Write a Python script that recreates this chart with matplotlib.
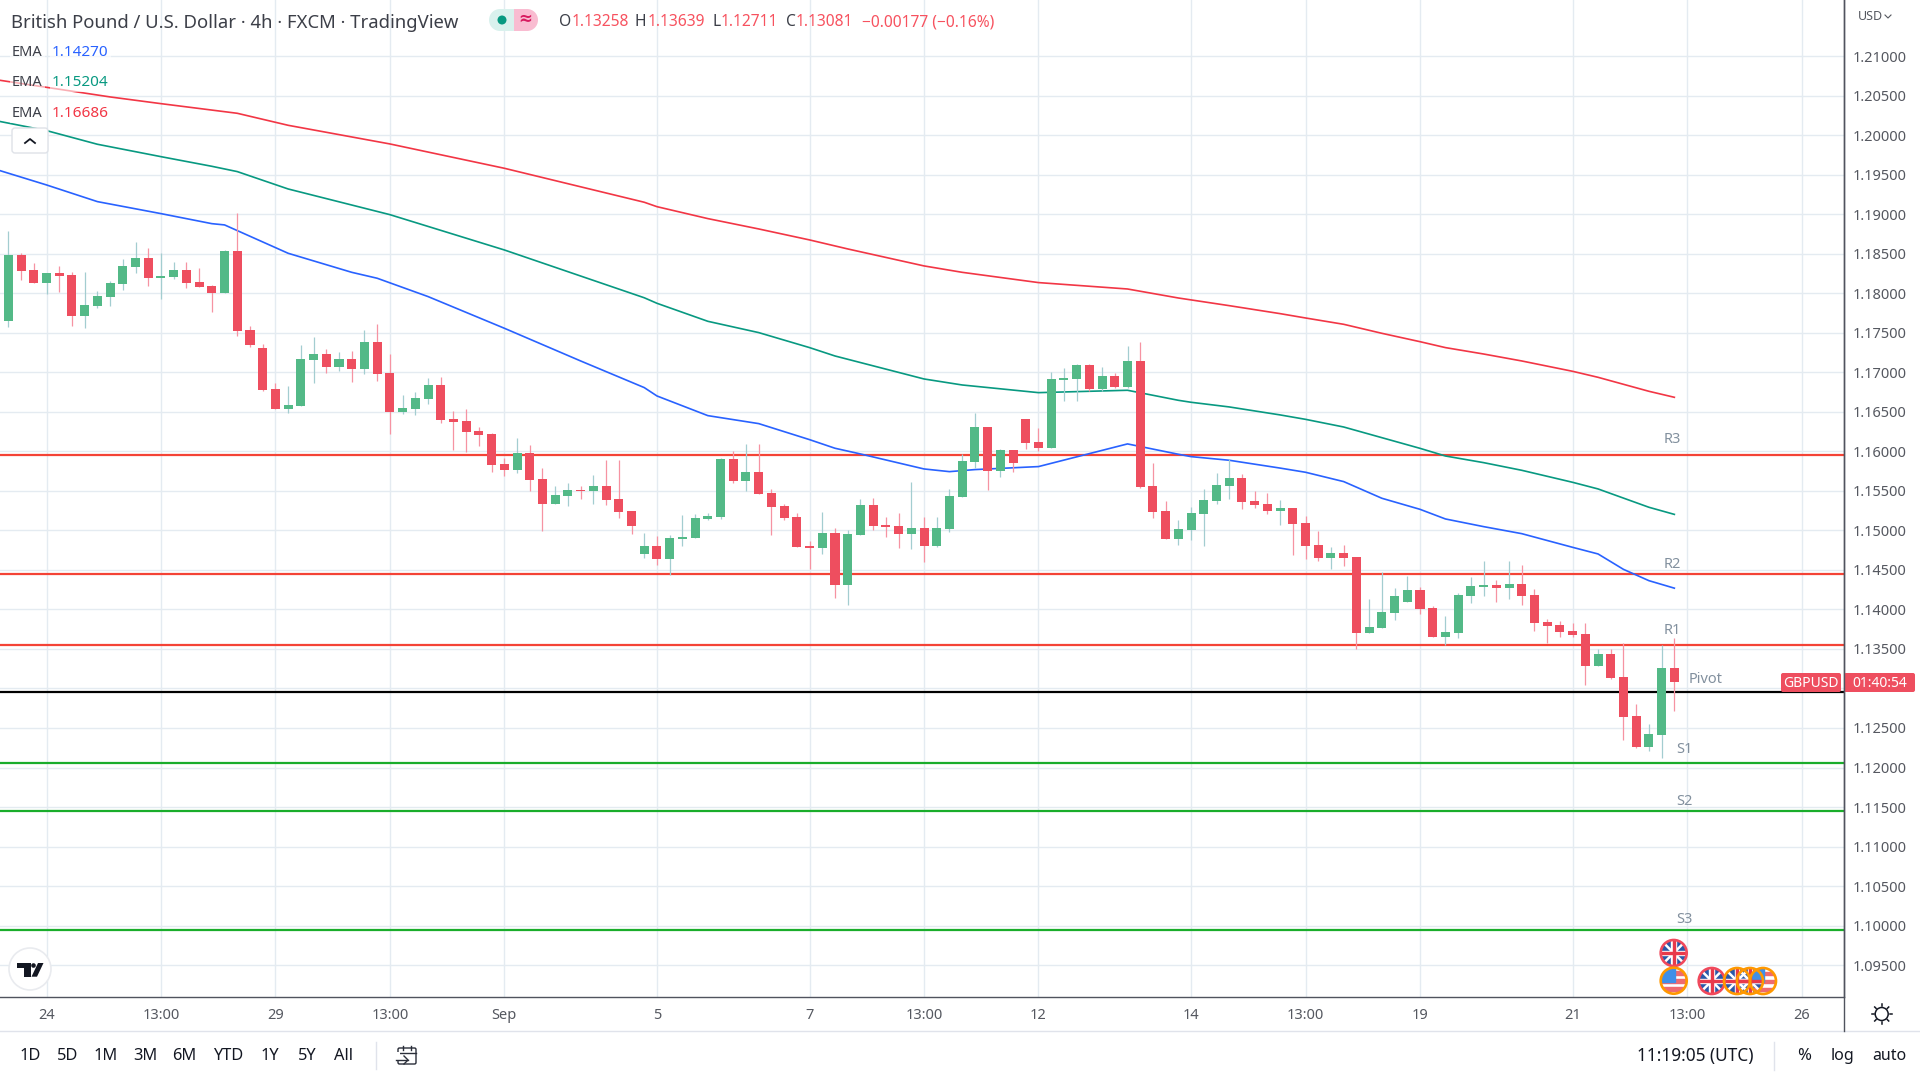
import matplotlib
matplotlib.use('Agg')
import matplotlib.pyplot as plt
from matplotlib.patches import Circle, FancyBboxPatch, Polygon, Rectangle

plt.rcParams['font.family'] = ['Noto Sans', 'DejaVu Sans']

opens = [1.17651, 1.18487, 1.18297, 1.18132, 1.18259, 1.18234, 1.17715, 1.17841, 1.17955, 1.18120,
         1.18335, 1.18449, 1.18196, 1.18208, 1.18297, 1.18145, 1.18094, 1.18006, 1.18537, 1.17538,
         1.17310, 1.16791, 1.16538, 1.16576, 1.17158, 1.17234, 1.17069, 1.17171, 1.17044, 1.17386,
         1.16993, 1.16500, 1.16538, 1.16664, 1.16841, 1.16411, 1.16386, 1.16259, 1.16221, 1.15842,
         1.15766, 1.15981, 1.15652, 1.15335, 1.15437, 1.15512, 1.15500, 1.15563, 1.15399, 1.15247,
         1.14703, 1.14804, 1.14639, 1.14893, 1.14905, 1.15146, 1.15171, 1.15905, 1.15627, 1.15741,
         1.15475, 1.15310, 1.15171, 1.14804, 1.14779, 1.14969, 1.14310, 1.14943, 1.15323, 1.15070,
         1.15057, 1.14956, 1.15032, 1.14804, 1.15019, 1.15424, 1.15867, 1.16310, 1.15753, 1.16019,
         1.16412, 1.16120, 1.16044, 1.16905, 1.16918, 1.17095, 1.16791, 1.16956, 1.16817, 1.17146,
         1.15563, 1.15247, 1.14893, 1.15007, 1.15209, 1.15374, 1.15563, 1.15664, 1.15373, 1.15335,
         1.15247, 1.15285, 1.15095, 1.14816, 1.14652, 1.14715, 1.14665, 1.13703, 1.13766, 1.13956,
         1.14095, 1.14247, 1.14019, 1.13652, 1.13703, 1.14171, 1.14285, 1.14310, 1.14272, 1.14323,
         1.14184, 1.13842, 1.13804, 1.13728, 1.13690, 1.13285, 1.13437, 1.13146, 1.12652, 1.12260,
         1.12412, 1.13258]
closes = [1.18487, 1.18284, 1.18132, 1.18259, 1.18221, 1.17715, 1.17854, 1.17968, 1.18132, 1.18348,
          1.18449, 1.18196, 1.18221, 1.18297, 1.18132, 1.18082, 1.18006, 1.18537, 1.17525, 1.17348,
          1.16778, 1.16538, 1.16588, 1.17171, 1.17234, 1.17069, 1.17171, 1.17044, 1.17386, 1.16981,
          1.16500, 1.16550, 1.16677, 1.16841, 1.16398, 1.16373, 1.16247, 1.16209, 1.15829, 1.15766,
          1.15981, 1.15639, 1.15335, 1.15449, 1.15512, 1.15500, 1.15563, 1.15386, 1.15234, 1.15057,
          1.14804, 1.14639, 1.14905, 1.14918, 1.15158, 1.15184, 1.15905, 1.15627, 1.15741, 1.15462,
          1.15298, 1.15158, 1.14791, 1.14779, 1.14969, 1.14310, 1.14956, 1.15323, 1.15057, 1.15045,
          1.14956, 1.15032, 1.14804, 1.15032, 1.15437, 1.15880, 1.16310, 1.15753, 1.16019, 1.15855,
          1.16108, 1.16044, 1.16918, 1.16930, 1.17095, 1.16791, 1.16956, 1.16817, 1.17146, 1.15551,
          1.15234, 1.14893, 1.15019, 1.15222, 1.15386, 1.15576, 1.15664, 1.15361, 1.15323, 1.15247,
          1.15285, 1.15082, 1.14804, 1.14652, 1.14715, 1.14652, 1.13703, 1.13779, 1.13968, 1.14171,
          1.14247, 1.14006, 1.13652, 1.13715, 1.14184, 1.14297, 1.14310, 1.14272, 1.14323, 1.14171,
          1.13829, 1.13791, 1.13715, 1.13677, 1.13285, 1.13437, 1.13133, 1.12639, 1.12260, 1.12424,
          1.13260, 1.13081]
highs = [1.18791, 1.18508, 1.18386, 1.18259, 1.18348, 1.18272, 1.18272, 1.18031, 1.18158, 1.18436,
         1.18651, 1.18575, 1.18512, 1.18398, 1.18398, 1.18322, 1.18107, 1.18550, 1.19018, 1.17588,
         1.17360, 1.16867, 1.16829, 1.17348, 1.17449, 1.17297, 1.17259, 1.17272, 1.17538, 1.17614,
         1.17234, 1.16715, 1.16753, 1.16930, 1.16943, 1.16512, 1.16538, 1.16310, 1.16234, 1.15918,
         1.16171, 1.16082, 1.15791, 1.15563, 1.15601, 1.15563, 1.15702, 1.15892, 1.15892, 1.15247,
         1.14969, 1.14931, 1.14943, 1.15196, 1.15209, 1.15222, 1.15918, 1.16007, 1.16095, 1.16095,
         1.15526, 1.15336, 1.15222, 1.14867, 1.15234, 1.15032, 1.15007, 1.15399, 1.15412, 1.15171,
         1.15222, 1.15614, 1.15171, 1.15171, 1.15526, 1.15969, 1.16487, 1.16310, 1.16032, 1.16019,
         1.16412, 1.16298, 1.17006, 1.17057, 1.17108, 1.17108, 1.17070, 1.16994, 1.17335, 1.17386,
         1.15855, 1.15374, 1.15133, 1.15298, 1.15526, 1.15728, 1.15905, 1.15715, 1.15500, 1.15475,
         1.15386, 1.15285, 1.15184, 1.14994, 1.14791, 1.14816, 1.14665, 1.14133, 1.14475, 1.14272,
         1.14424, 1.14285, 1.14044, 1.13918, 1.14209, 1.14411, 1.14614, 1.14373, 1.14614, 1.14563,
         1.14260, 1.13880, 1.13855, 1.13829, 1.13829, 1.13500, 1.13500, 1.13576, 1.12804, 1.12551,
         1.13551, 1.13639]
lows = [1.17576, 1.18170, 1.18132, 1.17993, 1.18019, 1.17588, 1.17563, 1.17816, 1.17841, 1.18044,
        1.18259, 1.18094, 1.17930, 1.18183, 1.18069, 1.18082, 1.17765, 1.18006, 1.17462, 1.17322,
        1.16766, 1.16538, 1.16487, 1.16576, 1.16867, 1.16993, 1.17019, 1.16879, 1.16981, 1.16892,
        1.16221, 1.16474, 1.16462, 1.16601, 1.16361, 1.16019, 1.15993, 1.16069, 1.15740, 1.15690,
        1.15728, 1.15500, 1.14994, 1.15335, 1.15310, 1.15399, 1.15335, 1.15323, 1.15158, 1.14956,
        1.14652, 1.14564, 1.14437, 1.14804, 1.14905, 1.15133, 1.15146, 1.15601, 1.15500, 1.15462,
        1.14943, 1.15133, 1.14791, 1.14513, 1.14703, 1.14146, 1.14057, 1.14943, 1.15007, 1.14918,
        1.14779, 1.14766, 1.14602, 1.14791, 1.14981, 1.15424, 1.15791, 1.15513, 1.15677, 1.15741,
        1.16032, 1.16007, 1.16044, 1.16639, 1.16639, 1.16766, 1.16766, 1.16804, 1.16804, 1.15538,
        1.15158, 1.14893, 1.14817, 1.14880, 1.14804, 1.15336, 1.15399, 1.15272, 1.15285, 1.15209,
        1.15070, 1.14690, 1.14639, 1.14614, 1.14513, 1.14551, 1.13500, 1.13703, 1.13766, 1.13867,
        1.14095, 1.13943, 1.13652, 1.13551, 1.13639, 1.14082, 1.14171, 1.14095, 1.14133, 1.14057,
        1.13728, 1.13576, 1.13652, 1.13652, 1.13044, 1.13285, 1.13120, 1.12348, 1.12247, 1.12209,
        1.12121, 1.12711]

# EMA readings, by candle number
ema_red_x = [-1, 8, 12, 18, 22, 30, 39, 50, 51, 55, 59, 63, 66, 72, 75, 81, 88, 92, 96, 100, 102, 105,
             108, 111, 113, 116, 119, 123, 125, 129, 131]
ema_red = [1.20707, 1.20488, 1.20403, 1.20281, 1.20129, 1.19893, 1.19585, 1.19155, 1.19099, 1.18948,
           1.18817, 1.18678, 1.18564, 1.18349, 1.18268, 1.18138, 1.18057, 1.17943, 1.17846, 1.17745,
           1.17690, 1.17610, 1.17496, 1.17390, 1.17315, 1.17234, 1.17146, 1.17015, 1.16939, 1.16762,
           1.16686]
ema_green_x = [-1, 3, 7, 12, 16, 18, 22, 30, 39, 50, 51, 55, 59, 63, 65, 72, 75, 81, 88, 92, 93, 96, 100,
               102, 105, 108, 111, 113, 116, 119, 123, 125, 129, 131]
ema_green = [1.20188, 1.20062, 1.19889, 1.19732, 1.19610, 1.19543, 1.19323, 1.18998, 1.18551, 1.17946,
             1.17876, 1.17648, 1.17505, 1.17315, 1.17209, 1.16918, 1.16842, 1.16745, 1.16775, 1.16648,
             1.16623, 1.16564, 1.16463, 1.16407, 1.16310, 1.16175, 1.16040, 1.15943, 1.15859, 1.15762,
             1.15610, 1.15526, 1.15294, 1.15204]
ema_blue_x = [-1, 3, 7, 12, 16, 17, 22, 27, 29, 33, 39, 45, 50, 51, 55, 59, 63, 65, 67, 72, 74, 76, 81,
              88, 92, 93, 96, 100, 102, 105, 108, 111, 113, 116, 119, 123, 125, 127, 129, 131]
ema_blue = [1.19572, 1.19374, 1.19163, 1.19011, 1.18884, 1.18868, 1.18509, 1.18268, 1.18193, 1.17961,
            1.17560, 1.17146, 1.16809, 1.16703, 1.16454, 1.16353, 1.16150, 1.16041, 1.15969, 1.15779,
            1.15745, 1.15771, 1.15809, 1.16096, 1.15965, 1.15935, 1.15889, 1.15790, 1.15737, 1.15619,
            1.15408, 1.15268, 1.15146, 1.15049, 1.14960, 1.14787, 1.14703, 1.14508, 1.14365, 1.14270]

level_values = [1.15956, 1.14449, 1.13551, 1.12956, 1.12057, 1.11454, 1.09943]
level_colors = ['#f44336', '#f44336', '#f44336', '#000000', '#1aad2b', '#1aad2b', '#1aad2b']

price_ticks = [1.095, 1.10, 1.105, 1.11, 1.115, 1.12, 1.125, 1.13, 1.135, 1.14, 1.145, 1.15,
               1.155, 1.16, 1.165, 1.17, 1.175, 1.18, 1.185, 1.19, 1.195, 1.20, 1.205, 1.21]
time_ticks = [3, 12, 21, 30, 39, 51, 63, 72, 81, 93, 102, 111, 123, 132, 141]
time_labels = ['24', '13:00', '29', '13:00', 'Sep', '5', '7', '13:00', '12', '14', '13:00', '19', '21',
               '13:00', '26']
range_buttons = ['1D', '5D', '1M', '3M', '6M', 'YTD', '1Y', '5Y', 'All']

GREEN = '#53b987'
RED = '#ee4e5f'
GREEN_WICK = '#a3cdd0'
RED_WICK = '#f693a2'
GRID = '#e4ebf1'
AXIS = '#50535e'
LABEL = '#555860'
LEVEL_LABEL = '#82909e'

fig = plt.figure(figsize=(19.2, 10.8), dpi=100, facecolor='white')
ax = fig.add_axes([0, 83 / 1080, 1843.5 / 1920, 997 / 1080])

# candles
for i in range(len(opens)):
    up = closes[i] >= opens[i]
    ax.vlines(i, lows[i], highs[i], color=GREEN_WICK if up else RED_WICK, lw=0.9, zorder=4)
    ax.bar(i, abs(closes[i] - opens[i]), bottom=min(opens[i], closes[i]), width=0.71,
           color=GREEN if up else RED, lw=0, zorder=5)

for value, color in zip(level_values, level_colors):
    ax.axhline(value, color=color, lw=1.6, zorder=2)

ax.plot(ema_red_x, ema_red, color='#f23645', lw=1.2, zorder=3)
ax.plot(ema_green_x, ema_green, color='#089981', lw=1.2, zorder=3)
ax.plot(ema_blue_x, ema_blue, color='#2962ff', lw=1.2, zorder=3)

ax.set_xlim(-0.657, 144.3)
ax.set_ylim(1.09095, 1.21715)
ax.set_xticks(time_ticks)
ax.set_xticklabels(time_labels)
ax.set_yticks(price_ticks)
# 1.13000 sits behind the last price boxes
ax.set_yticklabels(['' if p == 1.13 else '%.5f' % p for p in price_ticks])
ax.yaxis.tick_right()
ax.tick_params(axis='y', length=0, pad=6.8, labelsize=10.5, labelcolor=LABEL)
ax.tick_params(axis='x', length=0, pad=7.8, labelsize=10.5, labelcolor=LABEL)
ax.get_xticklabels()[4].set_fontweight('bold')
ax.grid(True, color=GRID, lw=1.0, zorder=0)
ax.set_axisbelow(True)
for side in ['top', 'left']:
    ax.spines[side].set_visible(False)
for side in ['right', 'bottom']:
    ax.spines[side].set_color(AXIS)
    ax.spines[side].set_linewidth(1.0)

# everything around the chart, in screen pixels
ui = fig.add_axes([0, 0, 1, 1], zorder=10)
ui.set_xlim(0, 1920)
ui.set_ylim(1080, 0)
ui.axis('off')


def label(x, y, text, color='#3c3f48', size=11, ha='left', bg=None, **kw):
    t = ui.text(x, y + 1.5, text, color=color, fontsize=size, ha=ha, va='center', zorder=12, **kw)
    if bg:
        t.set_bbox(dict(facecolor='white', alpha=bg, edgecolor='none', pad=1.5))
    return t


def uk_flag(cx, cy, ring):
    r = 13
    clip = Circle((cx, cy), r, transform=ui.transData)
    ui.add_patch(Circle((cx, cy), r, facecolor='#2a58a8', edgecolor='none', zorder=20))
    for dx in [-1, 1]:
        ln, = ui.plot([cx - r * dx, cx + r * dx], [cy - r, cy + r], color='white', lw=1.8, zorder=21)
        ln.set_clip_path(clip)
    ui.add_patch(Rectangle((cx - r, cy - 2.4), 2 * r, 4.8, color='white', zorder=21, clip_path=clip))
    ui.add_patch(Rectangle((cx - 2.4, cy - r), 4.8, 2 * r, color='white', zorder=21, clip_path=clip))
    ui.add_patch(Rectangle((cx - r, cy - 1), 2 * r, 2, color='#e8394a', zorder=22, clip_path=clip))
    ui.add_patch(Rectangle((cx - 1, cy - r), 2, 2 * r, color='#e8394a', zorder=22, clip_path=clip))
    ui.add_patch(Circle((cx, cy), r, fill=False, edgecolor=ring, lw=1.9, zorder=23))


def us_flag(cx, cy, ring):
    r = 13
    clip = Circle((cx, cy), r, transform=ui.transData)
    ui.add_patch(Circle((cx, cy), r, facecolor='white', edgecolor='none', zorder=20))
    for top in [-9.5, -1.5, 6.5]:
        ui.add_patch(Rectangle((cx - r, cy + top), 2 * r, 3.6, color='#ee6a70', zorder=21, clip_path=clip))
    ui.add_patch(Rectangle((cx - r, cy - r), r + 1, r + 1, color='#3f8fe8', zorder=22, clip_path=clip))
    ui.add_patch(Circle((cx, cy), r, fill=False, edgecolor=ring, lw=1.9, zorder=23))


# header
label(11, 21, 'British Pound / U.S. Dollar · 4h · FXCM · TradingView', size=13.3, color='#3c3f48')
ui.add_patch(Rectangle((500, 9), 14, 22, fc='#d9f1ed', ec='none'))
ui.add_patch(Circle((500, 20), 11, fc='#d9f1ed', ec='none'))
ui.add_patch(Circle((527, 20), 11, fc='#f9bcd1', ec='none'))
ui.add_patch(Rectangle((514, 9), 13, 22, fc='#f9bcd1', ec='none'))
ui.add_patch(Circle((502, 20), 4.5, fc='#089981', ec='none'))
label(525, 18, '≈', color='#d81b60', size=12, ha='center', fontweight='bold')

ohlc_red = '#f7525f'
label(559, 21, 'O', size=11.2)
label(572, 21, '1.13258', color=ohlc_red, size=11.2)
label(635, 21, 'H', size=11.2)
label(648, 21, '1.13639', color=ohlc_red, size=11.2)
label(712, 21, 'L', size=11.2)
label(721, 21, '1.12711', color=ohlc_red, size=11.2)
label(786, 21, 'C', size=11.2)
label(796, 21, '1.13081', color=ohlc_red, size=11.2)
label(862, 21, '−0.00177 (−0.16%)', color=ohlc_red, size=11.2)

ema_rows = [(50.7, '1.14270', '#2962ff'), (81, '1.15204', '#089981'), (111.7, '1.16686', '#f23645')]
for y, val, col in ema_rows:
    label(12, y, 'EMA', size=10.5, bg=0.6)
    label(52, y, val, color=col, size=11, bg=0.6)

ui.add_patch(FancyBboxPatch((12, 128), 36, 25, boxstyle='round,pad=0,rounding_size=3', fc='white', ec='#dfe2e8', lw=1))
ui.plot([25, 30, 35], [143, 139, 143], color='#131722', lw=1.3)

# pivot names
label(1672, 437.7, 'R3', color=LEVEL_LABEL, size=10.5, ha='center')
label(1672, 563, 'R2', color=LEVEL_LABEL, size=10.5, ha='center')
label(1672, 628.7, 'R1', color=LEVEL_LABEL, size=10.5, ha='center')
label(1706, 677.7, 'Pivot', color=LEVEL_LABEL, size=10.5, ha='center')
label(1684, 747.7, 'S1', color=LEVEL_LABEL, size=10.5, ha='center')
label(1684, 799.6, 'S2', color=LEVEL_LABEL, size=10.5, ha='center')
label(1684, 918.3, 'S3', color=LEVEL_LABEL, size=10.5, ha='center')

# last price boxes
ui.add_patch(FancyBboxPatch((1781, 673), 60, 19, boxstyle='round,pad=0,rounding_size=2', fc=RED, ec='none'))
ui.add_patch(FancyBboxPatch((1844, 673), 71, 19, boxstyle='round,pad=0,rounding_size=2', fc=RED, ec='none'))
label(1811, 682, 'GBPUSD', color='white', size=10, ha='center')
label(1879.5, 682, '01:40:54', color='white', size=10, ha='center')
label(1858, 15, 'USD', color=LABEL, size=9)
ui.plot([1885, 1888, 1891], [15, 18, 15], color=LABEL, lw=0.8)

# logo
ui.add_patch(Circle((30, 969), 21, fc='white', ec='#e9ebef', lw=1.2))
ui.add_patch(Polygon([(16.7, 963), (31, 963), (31, 976.7), (24, 976.7), (24, 968), (16.7, 968)], fc='#131722', ec='none'))
ui.add_patch(Circle((33.5, 965.5), 2.3, fc='#131722', ec='none'))
ui.add_patch(Polygon([(38, 963), (43.5, 963), (37, 976.7), (31.5, 976.7)], fc='#131722', ec='none'))

# event flags
uk_flag(1673.7, 953, '#f0495c')
us_flag(1673.7, 980.7, '#ff9800')
uk_flag(1711.7, 981, '#f0495c')
us_flag(1763, 981, '#ff9800')
uk_flag(1750, 981, '#ff9800')
uk_flag(1737, 981, '#ff9800')

# bottom bars
ui.plot([0, 1920], [1031, 1031], color='#e0e3eb', lw=1.0)
ui.plot([1843.5, 1843.5], [0, 1031], color=AXIS, lw=1.0)
sun_ticks = [(0, -10, 0, -8), (0, 8, 0, 10), (-10, 0, -8, 0), (8, 0, 10, 0),
             (-7, -7, -5.6, -5.6), (5.6, -5.6, 7, -7), (-7, 7, -5.6, 5.6), (5.6, 5.6, 7, 7)]
ui.add_patch(Circle((1881.7, 1014), 6.5, fc='white', ec='#131722', lw=1.1))
for x1, y1, x2, y2 in sun_ticks:
    ui.plot([1881.7 + x1, 1881.7 + x2], [1014 + y1, 1014 + y2], color='#131722', lw=1.1)

btn_x = [30, 68, 106, 145, 184, 228, 270, 307, 344]
for x, text in zip(btn_x, range_buttons):
    label(x, 1055, text, color='#131722', size=11.8, ha='center')
ui.plot([376, 376], [1042, 1069], color='#e0e3eb', lw=1.0)
ui.add_patch(FancyBboxPatch((398, 1048), 18, 16, boxstyle='round,pad=0,rounding_size=1.5', fc='none', ec='#2a2e39', lw=1))
ui.add_patch(Rectangle((394, 1052), 6, 8, fc='white', ec='none', zorder=6))
ui.plot([398, 416], [1053, 1053], color='#2a2e39', lw=1)
ui.plot([403, 403], [1046, 1050], color='#2a2e39', lw=1)
ui.plot([411, 411], [1046, 1050], color='#2a2e39', lw=1)
ui.plot([396, 408], [1060, 1060], color='#2a2e39', lw=1, zorder=7)
ui.plot([404, 408, 404], [1056, 1060, 1064], color='#2a2e39', lw=1, zorder=7)

label(1695.5, 1055, '11:19:05 (UTC)', color='#131722', size=12.4, ha='center')
ui.plot([1774, 1774], [1042, 1070], color='#e0e3eb', lw=1.0)
label(1804, 1055, '%', color='#131722', size=12, ha='center')
label(1842, 1055, 'log', color='#131722', size=11.5, ha='center')
label(1889, 1055, 'auto', color='#131722', size=11.5, ha='center')

fig.savefig('out.png', dpi=100)
